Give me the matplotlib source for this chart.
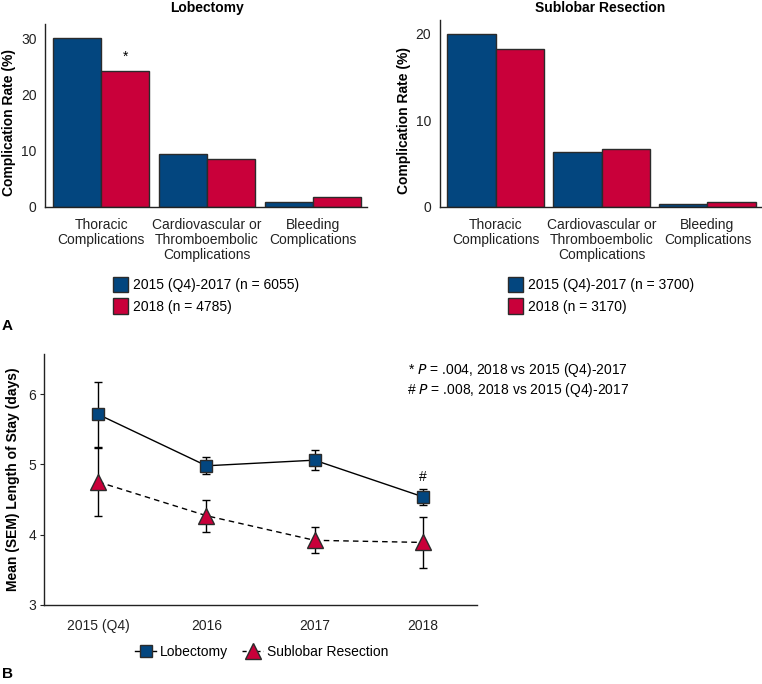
import matplotlib
matplotlib.use("Agg")
import matplotlib.pyplot as plt
import numpy as np
from matplotlib.patches import Patch
from matplotlib.lines import Line2D

plt.rcParams['font.family'] = ['Liberation Sans', 'DejaVu Sans']

categories = ["Thoracic\nComplications", "Cardiovascular or\nThromboembolic\nComplications", "Bleeding\nComplications"]
lob_early = [30.0, 9.4, 0.8]
lob_2018 = [24.1, 8.5, 1.8]
sub_early = [20.0, 6.4, 0.4]
sub_2018 = [18.3, 6.65, 0.6]
lob_labels = ["2015 (Q4)-2017 (n = 6055)", "2018 (n = 4785)"]
sub_labels = ["2015 (Q4)-2017 (n = 3700)", "2018 (n = 3170)"]

years = ["2015 (Q4)", "2016", "2017", "2018"]
los_lob = [5.71, 4.98, 5.06, 4.54]
sem_lob = [0.46, 0.12, 0.14, 0.115]
los_sub = [4.75, 4.27, 3.92, 3.89]
sem_sub = [0.49, 0.23, 0.185, 0.36]

BLUE = "#03467f"
RED = "#c9003a"
EDGE = "#2b2b2b"
FS = 10

fig = plt.figure(figsize=(7.62, 6.84), dpi=100)

def bar_panel(rect, early, late, title, title_x, labels, ylim, yticks, legend_x):
    ax = fig.add_axes(rect)
    x = np.arange(len(categories))
    w = 0.455
    ax.bar(x - w/2, early, w, color=BLUE, edgecolor=EDGE, linewidth=1.0)
    ax.bar(x + w/2, late, w, color=RED, edgecolor=EDGE, linewidth=1.0)
    ax.set_xlim(-0.53, 2.51)
    ax.set_ylim(*ylim)
    ax.set_yticks(yticks)
    ax.set_xticks(x)
    ax.set_xticklabels(categories, fontsize=FS, color="#222222", linespacing=1.1)
    ax.tick_params(axis='x', length=0, pad=8)
    ax.tick_params(axis='y', length=0, labelsize=FS, pad=6, colors="#222222")
    for s in ['top', 'right']:
        ax.spines[s].set_visible(False)
    for s in ['left', 'bottom']:
        ax.spines[s].set_color("#222222")
        ax.spines[s].set_linewidth(1.0)
    ax.set_ylabel("Complication Rate (%)", fontsize=FS, fontweight='bold')
    ax.yaxis.set_label_coords(-0.09, 0.46)
    fig.text(title_x, 1 - 8/684, title, fontsize=FS, fontweight='bold', ha='center', va='center')
    handles = [Patch(facecolor=BLUE, edgecolor=EDGE), Patch(facecolor=RED, edgecolor=EDGE)]
    fig.legend(handles, labels, loc='upper left', bbox_to_anchor=(legend_x, 1 - 277/684),
               frameon=False, fontsize=FS, handlelength=1.1, handleheight=1.3,
               handletextpad=0.35, labelspacing=0.45, borderpad=0, borderaxespad=0)
    return ax

ax1 = bar_panel([45/762, 1 - 207/684, 322/762, 183/684], lob_early, lob_2018,
                "Lobectomy", 207/762, lob_labels, (0, 32.5), [0, 10, 20, 30], 113/762)
ax1.text(0 + 0.455/2, lob_2018[0] + 2.5, "*", ha='center', va='center', fontsize=FS)

ax2 = bar_panel([439.5/762, 1 - 207/684, 322/762, 187/684], sub_early, sub_2018,
                "Sublobar Resection", 600/762, sub_labels, (0, 21.6), [0, 10, 20], 508/762)

# Line panel
ax3 = fig.add_axes([44.3/762, 1 - 605/684, 432.4/762, 251/684])
xp = np.arange(len(years))
ax3.errorbar(xp, los_lob, yerr=sem_lob, color='black', linestyle='-', linewidth=1.0,
             marker='s', markersize=9, markerfacecolor=BLUE, markeredgecolor=EDGE,
             markeredgewidth=1.0, ecolor='black', elinewidth=1.0, capsize=3, capthick=1.0, zorder=3)
ax3.errorbar(xp, los_sub, yerr=sem_sub, color='black', linestyle=(0, (4, 3)), linewidth=1.0,
             marker='^', markersize=11, markerfacecolor=RED, markeredgecolor=EDGE,
             markeredgewidth=1.0, ecolor='black', elinewidth=1.0, capsize=3, capthick=1.0, zorder=2)
ax3.set_xlim(-0.5, 3.5)
ax3.set_ylim(3, 6.57)
ax3.set_yticks([3, 4, 5, 6])
ax3.set_xticks(xp)
ax3.set_xticklabels(years, fontsize=FS, color="#222222")
ax3.tick_params(axis='x', length=0, pad=10)
ax3.tick_params(axis='y', length=3, labelsize=FS, pad=3, colors="#222222")
for s in ['top', 'right']:
    ax3.spines[s].set_visible(False)
for s in ['left', 'bottom']:
    ax3.spines[s].set_color("#222222")
    ax3.spines[s].set_linewidth(1.0)
ax3.set_ylabel("Mean (SEM) Length of Stay (days)", fontsize=FS, fontweight='bold', labelpad=6)
ax3.text(3, los_lob[3] + sem_lob[3] + 0.17, "#", ha='center', va='center', fontsize=FS)

fig.text(408/762, 1 - 370/684, "* $\\it{P}$ = .004, 2018 vs 2015 (Q4)-2017", fontsize=FS, va='center', ha='left')
fig.text(407/762, 1 - 390/684, "# $\\it{P}$ = .008, 2018 vs 2015 (Q4)-2017", fontsize=FS, va='center', ha='left')

h1 = Line2D([], [], color='black', linestyle='-', linewidth=1.0, marker='s', markersize=9,
            markerfacecolor=BLUE, markeredgecolor=EDGE)
h2 = Line2D([], [], color='black', linestyle=(0, (3, 2)), linewidth=1.0, marker='^', markersize=11,
            markerfacecolor=RED, markeredgecolor=EDGE)
fig.legend([h1, h2], ["Lobectomy", "Sublobar Resection"], loc='center',
           bbox_to_anchor=(262/762, 1 - 652/684), ncol=2, frameon=False, fontsize=FS,
           handlelength=1.5, handletextpad=0.3, columnspacing=1.0)

fig.text(2/762, 1 - 326/684, "A", fontsize=11, fontweight='bold', va='center', ha='left')
fig.text(2/762, 1 - 674/684, "B", fontsize=11, fontweight='bold', va='center', ha='left')

fig.savefig("out.png", dpi=100)
